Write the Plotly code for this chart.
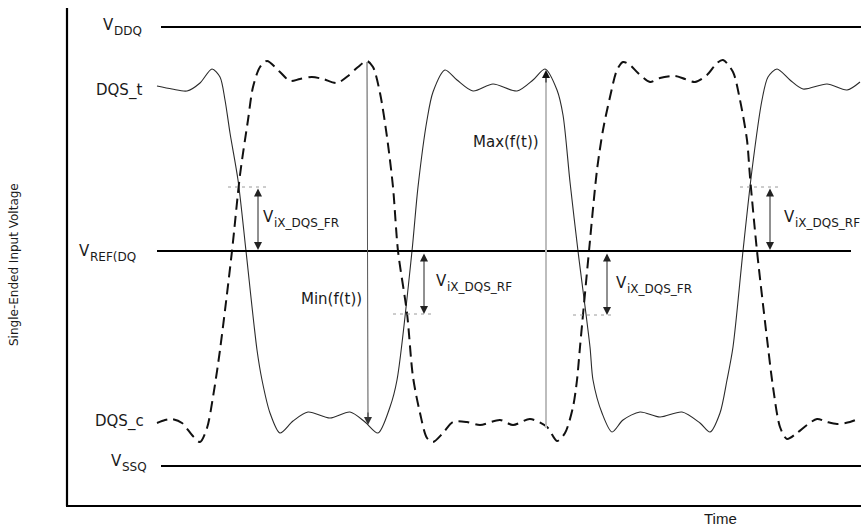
import plotly.graph_objects as go

# Time axis runs 0..861 (arbitrary units); voltage axis 0..528 (arbitrary units).
V_DDQ = 501
V_REF = 277
V_SSQ = 62
VIX_HIGH = 341   # upper crossing-point level
VIX_LOW = 214    # lower crossing-point level

# DQS_t (true strobe, solid)
dqs_t_time = [157, 172, 187, 200, 212, 220, 225, 230, 238, 246, 257, 262, 270, 280,
              293, 308, 330, 350, 365, 378, 390, 397, 412, 418, 427, 433, 445, 457,
              473, 493, 517, 533, 545, 557, 563, 570, 578, 590, 593, 602, 612, 623,
              640, 660, 682, 700, 710, 720, 727, 733, 743, 752, 762, 768, 777, 790,
              803, 827, 847, 860]
dqs_t_volt = [442, 439, 437, 445, 459, 451, 428, 395, 348, 277, 178, 148, 115, 95,
              107, 116, 110, 116, 106, 95, 121, 148, 277, 341, 408, 436, 458, 448,
              437, 444, 437, 448, 459, 438, 413, 346, 277, 181, 148, 115, 96, 108,
              116, 111, 116, 105, 96, 115, 148, 181, 277, 358, 428, 451, 459, 448,
              439, 444, 438, 446]

# DQS_c (complement strobe, dashed)
dqs_c_time = [157, 165, 172, 182, 192, 200, 207, 213, 220, 232, 240, 248, 253, 260,
              267, 280, 290, 300, 312, 323, 337, 348, 358, 367, 373, 380, 387, 393,
              398, 407, 413, 420, 427, 433, 443, 453, 467, 480, 500, 513, 530, 547,
              557, 565, 573, 577, 580, 589, 597, 603, 610, 617, 623, 630, 638, 650,
              660, 675, 685, 695, 707, 717, 723, 733, 740, 747, 750, 757, 768, 773,
              780, 787, 797, 807, 817, 827, 837, 850, 860]
dqs_c_volt = [105, 108, 109, 105, 93, 86, 100, 131, 178, 277, 353, 408, 441, 461,
              467, 456, 447, 449, 451, 449, 445, 452, 461, 467, 461, 435, 391, 341,
              277, 215, 151, 115, 90, 86, 95, 106, 106, 103, 108, 103, 109, 101,
              87, 95, 121, 148, 181, 277, 358, 398, 431, 458, 466, 463, 455, 446,
              450, 452, 449, 446, 453, 465, 468, 456, 428, 388, 351, 277, 181, 141,
              101, 89, 95, 103, 109, 106, 104, 106, 110]

# Measurement markers
min_time, min_top, min_bottom = 367, 466, 103
max_time, max_bottom, max_top = 546, 100, 458
vix_fr_left_time = 258
vix_rf_mid_time = 424
vix_fr_mid_time = 607
vix_rf_right_time = 770
vix_guides = [  # (start, end, level)
    (228, 267, VIX_HIGH),
    (393, 432, VIX_LOW),
    (573, 611, VIX_LOW - 1),
    (740, 778, VIX_HIGH),
]

FONT = "DejaVu Sans"
INK = "#1a1a1a"

fig = go.Figure()

fig.add_trace(go.Scatter(
    x=dqs_t_time, y=dqs_t_volt, mode="lines",
    line=dict(color="#2b2b2b", width=1.1, shape="spline", smoothing=0.8),
    hoverinfo="skip", showlegend=False))

fig.add_trace(go.Scatter(
    x=dqs_c_time, y=dqs_c_volt, mode="lines",
    line=dict(color="#111111", width=2, shape="spline", smoothing=0.8, dash="11px,6px"),
    hoverinfo="skip", showlegend=False))

shapes = []
# Frame (voltage axis on the left, time axis at the bottom)
shapes.append(dict(type="line", xref="x", yref="y", x0=67, x1=67, y0=520, y1=22,
                   line=dict(color="black", width=2.2)))
shapes.append(dict(type="line", xref="x", yref="y", x0=66, x1=861, y0=22, y1=22,
                   line=dict(color="black", width=2.2)))
# Supply / reference levels
shapes.append(dict(type="line", xref="x", yref="y", x0=161, x1=861, y0=V_DDQ, y1=V_DDQ,
                   line=dict(color="black", width=2.2)))
shapes.append(dict(type="line", xref="x", yref="y", x0=157, x1=851, y0=V_REF, y1=V_REF,
                   line=dict(color="black", width=2.2)))
shapes.append(dict(type="line", xref="x", yref="y", x0=161, x1=861, y0=V_SSQ, y1=V_SSQ,
                   line=dict(color="black", width=2.2)))
# Crossing-point guides
for a, b, lvl in vix_guides:
    shapes.append(dict(type="line", xref="x", yref="y", x0=a, x1=b, y0=lvl, y1=lvl,
                       line=dict(color="#9a9a9a", width=1, dash="3px,4px")))
# Max(f(t)) shaft (light grey)
shapes.append(dict(type="line", xref="x", yref="y", x0=max_time, x1=max_time,
                   y0=max_bottom, y1=max_top - 6, line=dict(color="#bdbdbd", width=2)))
# Min(f(t)) shaft
shapes.append(dict(type="line", xref="x", yref="y", x0=min_time, x1=min_time + 1,
                   y0=min_top, y1=min_bottom + 6, line=dict(color="#555555", width=1)))

annotations = []


def arrow(x, y_head, y_tail, both=False, color="#222222"):
    annotations.append(dict(
        x=x, y=y_head, ax=x, ay=y_tail, xref="x", yref="y", axref="x", ayref="y",
        text="", showarrow=True, arrowhead=2, startarrowhead=2, arrowsize=1.6,
        startarrowsize=1.6, arrowwidth=1, arrowcolor=color,
        arrowside="end+start" if both else "end", standoff=0, startstandoff=0))


arrow(vix_fr_left_time, V_REF + 1, VIX_HIGH, both=True)
arrow(vix_rf_mid_time, VIX_LOW, V_REF - 1, both=True)
arrow(vix_fr_mid_time, VIX_LOW - 1, V_REF - 1, both=True)
arrow(vix_rf_right_time, V_REF + 1, VIX_HIGH, both=True)
arrow(min_time + 1, min_bottom, min_bottom + 14, color="#333333")
arrow(max_time, max_top, max_top - 14, color="#111111")


def label(x, y, text, size=15, anchor="left", font=FONT, color=INK):
    annotations.append(dict(x=x, y=y, xref="x", yref="y", text=text, showarrow=False,
                            xanchor=anchor, yanchor="middle",
                            font=dict(family=font, size=size, color=color)))


def v_label(x, y, sub, size=15, sub_size=12):
    # "V" with a lowered subscript drawn next to it
    label(x, y, "V", size=size)
    label(x + 10.5, y - 6, sub, size=sub_size)


v_label(101, 503, "DDQ")
label(94, 438, "DQS_t")
v_label(77, 277, "REF(DQ")
label(93, 107, "DQS_c")
v_label(109, 67, "SSQ")

v_label(261, 311, "iX_DQS_FR")
label(364, 229, "Min(f(t))", anchor="right")
v_label(434, 247, "iX_DQS_RF")
label(541, 386, "Max(f(t))", anchor="right")
v_label(614, 245, "iX_DQS_FR")
v_label(782, 311, "iX_DQS_RF")

label(720, 10, "Time", size=15, anchor="center", font="Liberation Sans")
annotations.append(dict(x=14, y=263, xref="x", yref="y", text="Single-Ended Input Voltage",
                        showarrow=False, textangle=-90, xanchor="center", yanchor="middle",
                        font=dict(family=FONT, size=12, color=INK)))

fig.update_layout(
    width=861, height=528,
    margin=dict(l=0, r=0, t=0, b=0),
    paper_bgcolor="white", plot_bgcolor="white",
    xaxis=dict(range=[0, 861], visible=False, fixedrange=True),
    yaxis=dict(range=[0, 528], visible=False, fixedrange=True),
    shapes=shapes, annotations=annotations, showlegend=False,
)

fig.write_html("out.html", config={"displayModeBar": False})
